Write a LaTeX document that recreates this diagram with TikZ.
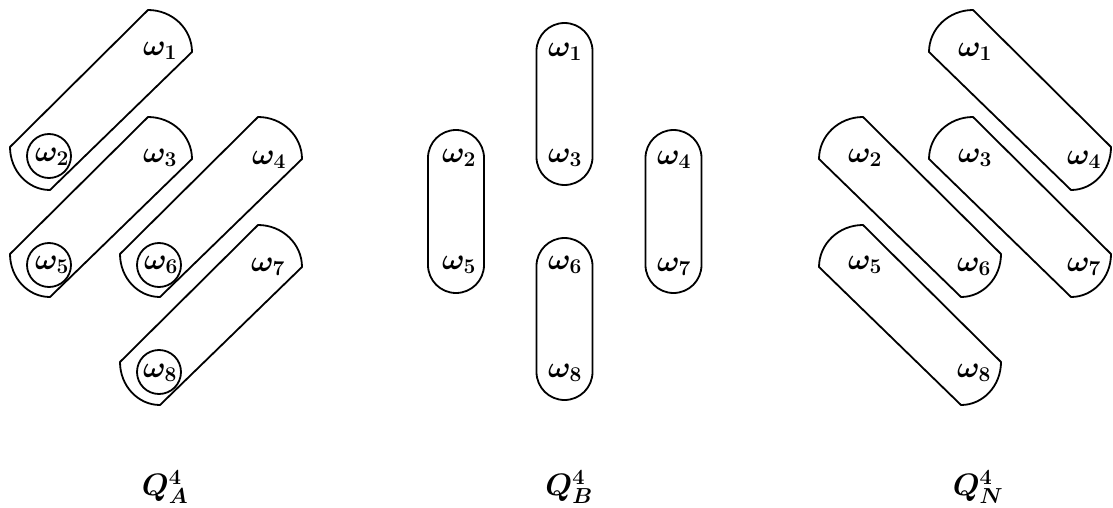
\RequirePackage{fix-cm}
\documentclass[tikz,border=0pt]{standalone}
\usepackage{amsmath,bm}
\begin{document}
\begin{tikzpicture}[x=1pt,y=1pt,
  hullline/.style={line width=1.8pt, line join=round},
  lbl/.style={inner sep=0pt, font=\fontsize{30}{34}\selectfont},
  qlabel/.style={inner sep=0pt, font=\fontsize{31}{34}\selectfont},
  hullNE/.pic={\draw[hullline] (0,0) arc[start angle=90,end angle=0,x radius=44,y radius=42]
      -- (-98,-180) arc[start angle=270,end angle=180,x radius=40,y radius=43] -- cycle;},
  hullNW/.pic={\draw[hullline] (0,0) arc[start angle=90,end angle=180,x radius=44,y radius=42]
      -- (98,-180) arc[start angle=270,end angle=360,x radius=40,y radius=43] -- cycle;},
  stadium/.style={hullline, rounded corners=28pt}]
\useasboundingbox (0,0) rectangle (1113,-508);

% ---- Q_A : diagonal hulls rising to the right, with singleton circles
\pic at (148,-10)  {hullNE};
\pic at (148,-117) {hullNE};
\pic at (258,-117) {hullNE};
\pic at (258,-225) {hullNE};
\draw[hullline] (49,-156) circle[radius=22];
\draw[hullline] (49,-265) circle[radius=22];
\draw[hullline] (159,-265) circle[radius=22];
\draw[hullline] (159,-372) circle[radius=22];
\node[lbl] (a1) at (160,-51)  {$\bm{\omega_1}$};
\node[lbl] (a2) at (52,-157)  {$\bm{\omega_2}$};
\node[lbl] (a3) at (160,-158) {$\bm{\omega_3}$};
\node[lbl] (a4) at (269,-160) {$\bm{\omega_4}$};
\node[lbl] (a5) at (52,-265)  {$\bm{\omega_5}$};
\node[lbl] (a6) at (161,-265) {$\bm{\omega_6}$};
\node[lbl] (a7) at (268,-267) {$\bm{\omega_7}$};
\node[lbl] (a8) at (160,-373) {$\bm{\omega_8}$};
\node[qlabel] (qa) at (165,-487) {$\bm{Q^4_A}$};

% ---- Q_B : vertical stadiums
\draw[stadium] (536.5,-23)  rectangle (592.5,-185);
\draw[stadium] (428,-130)   rectangle (484,-293);
\draw[stadium] (645.5,-130) rectangle (701.5,-293);
\draw[stadium] (536.5,-238) rectangle (592.5,-400);
\node[lbl] (b1) at (565,-52)  {$\bm{\omega_1}$};
\node[lbl] (b2) at (459,-158) {$\bm{\omega_2}$};
\node[lbl] (b3) at (565,-158) {$\bm{\omega_3}$};
\node[lbl] (b4) at (674,-160) {$\bm{\omega_4}$};
\node[lbl] (b5) at (459,-265) {$\bm{\omega_5}$};
\node[lbl] (b6) at (565,-265) {$\bm{\omega_6}$};
\node[lbl] (b7) at (674,-267) {$\bm{\omega_7}$};
\node[lbl] (b8) at (565,-373) {$\bm{\omega_8}$};
\node[qlabel] (qb) at (569,-487) {$\bm{Q^4_B}$};

% ---- Q_N : diagonal hulls falling to the right
\pic at (973,-10)  {hullNW};
\pic at (863,-117) {hullNW};
\pic at (973,-117) {hullNW};
\pic at (863,-225) {hullNW};
\node[lbl] (n1) at (975,-52)   {$\bm{\omega_1}$};
\node[lbl] (n2) at (865,-158)  {$\bm{\omega_2}$};
\node[lbl] (n3) at (975,-158)  {$\bm{\omega_3}$};
\node[lbl] (n4) at (1084,-160) {$\bm{\omega_4}$};
\node[lbl] (n5) at (865,-265)  {$\bm{\omega_5}$};
\node[lbl] (n6) at (974,-267)  {$\bm{\omega_6}$};
\node[lbl] (n7) at (1084,-267) {$\bm{\omega_7}$};
\node[lbl] (n8) at (974,-373)  {$\bm{\omega_8}$};
\node[qlabel] (qn) at (978,-487) {$\bm{Q^4_N}$};
\end{tikzpicture}
\end{document}
